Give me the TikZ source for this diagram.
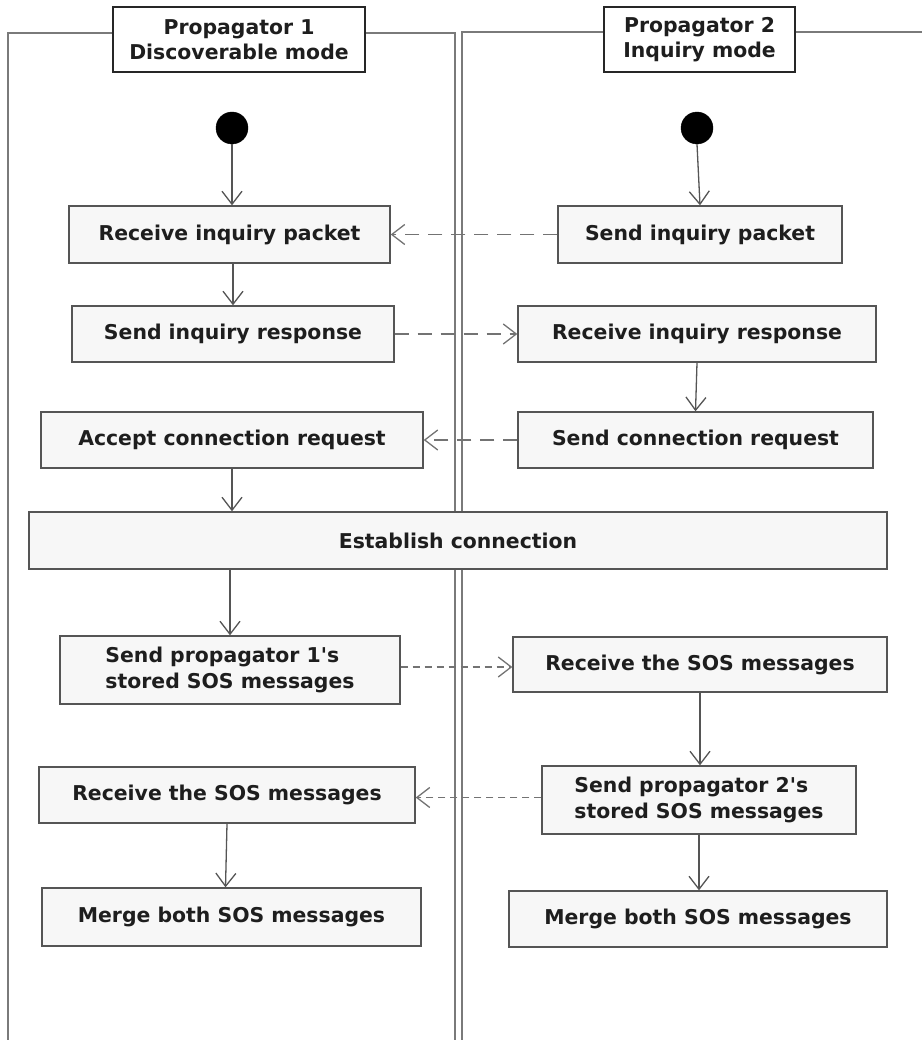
\documentclass[tikz,border=0pt]{standalone}
\usepackage{fontspec}
\setmainfont{DejaVu Sans}
\usetikzlibrary{arrows.meta}

\definecolor{boxfill}{HTML}{F7F7F7}
\definecolor{boxline}{HTML}{555555}
\definecolor{laneline}{HTML}{7A7A7A}
\definecolor{ink}{HTML}{1E1E1E}
\definecolor{msgline}{HTML}{737373}

% straight apostrophe glyph, bypassing the TeX quote mapping
\newcommand{\apos}{\XeTeXglyph\XeTeXcharglyph"0027\relax}

\begin{document}
\begin{tikzpicture}[
  x=1pt, y=-1pt,
  font=\fontsize{20.4}{25.5}\selectfont\bfseries,
  lane/.style={draw=laneline, line width=1.5pt},
  header/.style={draw=black!85, line width=2.6pt, fill=white, text=ink,
    align=center, inner sep=0pt},
  act/.style={draw=boxline, line width=1.4pt, fill=boxfill, text=ink,
    align=center, inner sep=0pt},
  start/.style={circle, fill=black, draw=black, minimum size=32pt, inner sep=0pt},
  tip/.style={-{Straight Barb[length=13pt, width=20pt, line width=1.3pt]}},
  flow/.style={draw=boxline, line width=1.3pt, tip},
  msg/.style={draw=msgline, line width=1.9pt, tip, dash pattern=on 14pt off 9pt},
  msgdot/.style={draw=msgline, line width=1.7pt, tip, dash pattern=on 7pt off 5pt},
]
\useasboundingbox (0,0) rectangle (922,1040);

% swimlane frames
\draw[lane] (8,1040) -- (8,33) -- (113,33);
\draw[lane] (365,33) -- (455,33) -- (455,1040);
\draw[lane] (462,1040) -- (462,32) -- (604,32);
\draw[lane] (795,32) -- (922,32);

% lane headers
\node[header, minimum width=252pt, minimum height=65pt] (h1) at (239,39.5)
  {Propagator 1\\Discoverable mode};
\node[header, minimum width=191pt, minimum height=65pt] (h2) at (699.5,39.5)
  {Propagator 2\\Inquiry mode};

% initial states
\node[start] (s1) at (232,128) {};
\node[start] (s2) at (697,128) {};

% actions, propagator 1
\node[act, minimum width=321pt, minimum height=57pt] (rip) at (229.5,234.5) {Receive inquiry packet};
\node[act, minimum width=322pt, minimum height=56pt] (sir) at (233,334) {Send inquiry response};
\node[act, minimum width=382pt, minimum height=56pt] (acr) at (232,440) {Accept connection request};
\node[act, minimum width=340pt, minimum height=68pt, align=left] (sp1) at (230,670) {Send propagator 1\apos s\\stored SOS messages};
\node[act, minimum width=376pt, minimum height=56pt] (rs1) at (227,795) {Receive the SOS messages};
\node[act, minimum width=379pt, minimum height=58pt] (mg1) at (231.5,917) {Merge both SOS messages};

% actions, propagator 2
\node[act, minimum width=284pt, minimum height=57pt] (sip) at (700,234.5) {Send inquiry packet};
\node[act, minimum width=358pt, minimum height=56pt] (rir) at (697,334) {Receive inquiry response};
\node[act, minimum width=355pt, minimum height=56pt] (scr) at (695.5,440) {Send connection request};
\node[act, minimum width=374pt, minimum height=55pt] (rs2) at (700,664.5) {Receive the SOS messages};
\node[act, minimum width=314pt, minimum height=68pt, align=left] (sp2) at (699,800) {Send propagator 2\apos s\\stored SOS messages};
\node[act, minimum width=378pt, minimum height=56pt] (mg2) at (698,919) {Merge both SOS messages};

% shared action
\node[act, minimum width=858pt, minimum height=57pt] (est) at (458,540.5) {Establish connection};

% control flow
\draw[flow] (s1.south) -- ([xshift=2.5pt]rip.north);
\draw[flow] (s2.south) -- (sip.north);
\draw[flow] ([xshift=3.5pt]rip.south) -- (sir.north);
\draw[flow] (rir.south) -- (scr.north);
\draw[flow] (acr.south) -- (acr.south |- est.north);
\draw[flow] (sp1.north |- est.south) -- (sp1.north);
\draw[flow] (rs2.south) -- (rs2.south |- sp2.north);
\draw[flow] (rs1.south) -- ([xshift=-6pt]mg1.north);
\draw[flow] (sp2.south) -- (sp2.south |- mg2.north);

% messages between the propagators
\draw[msg] (sip.west) -- (rip.east);
\draw[msg] (sir.east) -- (rir.west);
\draw[msg] (scr.west) -- (acr.east);
\draw[msgdot] ([yshift=3pt]sp1.east) -- ([yshift=-2.5pt]rs2.west);
\draw[msgdot] ([yshift=2.5pt]sp2.west) -- ([yshift=-2.5pt]rs1.east);
\end{tikzpicture}
\end{document}
